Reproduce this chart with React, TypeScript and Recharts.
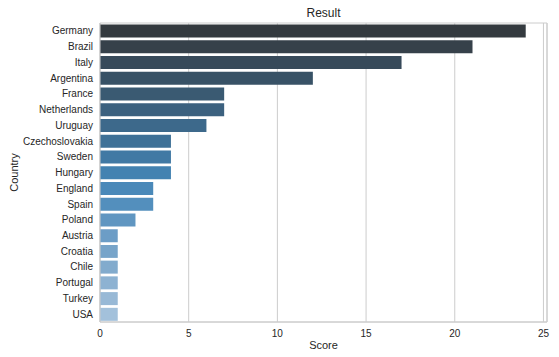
import { BarChart, Bar, XAxis, YAxis, CartesianGrid, ReferenceArea, Cell, Label } from 'recharts';

const countries = ['Germany', 'Brazil', 'Italy', 'Argentina', 'France', 'Netherlands', 'Uruguay', 'Czechoslovakia', 'Sweden', 'Hungary', 'England', 'Spain', 'Poland', 'Austria', 'Croatia', 'Chile', 'Portugal', 'Turkey', 'USA'];
const scores = [24, 21, 17, 12, 7, 7, 6, 4, 4, 4, 3, 3, 2, 1, 1, 1, 1, 1, 1];
const colors = ['#343a3f', '#36414a', '#374a5a', '#385266', '#3a5a72', '#3c617f', '#3d698b', '#3f7197', '#4179a4', '#4382b1', '#4a89b9', '#538fbd', '#6096c1', '#6c9dc6', '#77a4c9', '#82abcd', '#8db2d2', '#98b9d6', '#a3c1db'];
const xTicks = [0, 5, 10, 15, 20, 25];

const data = countries.map((c, i) => ({ country: c, score: scores[i] }));

const font = 'Arial, "Liberation Sans", sans-serif';
const ink = '#262626';
const light = '#cccccc';

const CountryLabel = (props: any) => {
    const vb = props.viewBox;
    const x = 14;
    const y = vb.y + vb.height / 2;
    return (
        <text x={x} y={y} transform={`rotate(-90, ${x}, ${y})`} textAnchor="middle" dominantBaseline="central" fontSize={11} fill={ink} fontFamily={font}>Country</text>
    );
};

export default function App() {
    return (
        <div style={{ margin: -8, width: 559, height: 357, background: '#fff' }}>
            <BarChart width={559} height={357} data={data} layout="vertical" margin={{ top: 23, right: 12, left: 0, bottom: 5 }} barCategoryGap="10%">
                <CartesianGrid horizontal={false} stroke={light} strokeWidth={1} />
                <XAxis type="number" dataKey="score" domain={[0, 25.2]} ticks={xTicks} allowDataOverflow height={30} tickLine={false} tickSize={0} tickMargin={8} axisLine={{ stroke: light }} tick={{ fontSize: 10, fill: ink, fontFamily: font }}>
                    <Label value="Score" position="insideBottom" offset={3} style={{ fontSize: 11, fill: ink, fontFamily: font }} />
                </XAxis>
                <YAxis type="category" dataKey="country" width={100} tickLine={false} tickSize={0} tickMargin={7} axisLine={{ stroke: light }} interval={0} tick={{ fontSize: 10, fill: ink, fontFamily: font }}>
                    <Label content={<CountryLabel />} />
                </YAxis>
                <ReferenceArea x1={0} x2={25.2} fill="none" stroke={light} strokeOpacity={1} ifOverflow="visible">
                    <Label value="Result" position="top" offset={6} style={{ fontSize: 12, fill: ink, fontFamily: font }} />
                </ReferenceArea>
                <Bar dataKey="score" isAnimationActive={false}>
                    {data.map((_d, i) => (<Cell key={`c-${i}`} fill={colors[i]} />))}
                </Bar>
            </BarChart>
        </div>
    );
}
